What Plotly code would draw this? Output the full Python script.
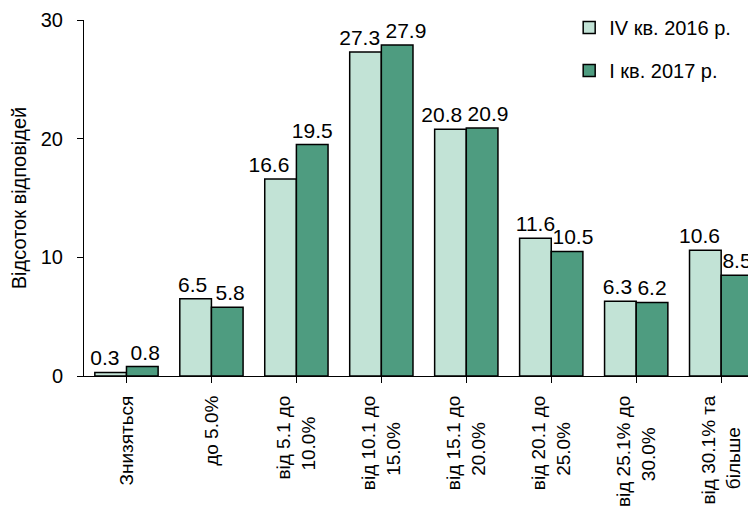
import plotly.graph_objects as go

NB = "\u00a0"
categories = ["Знизяться", "до 5.0%", "від 5.1 до<br>10.0%" + NB * 4, "від 10.1 до<br>15.0%" + NB * 5,
              "від 15.1 до<br>20.0%" + NB * 5, "від 20.1 до<br>25.0%" + NB * 5,
              "від 25.1% до<br>30.0%" + NB * 6, "від 30.1% та<br>більше" + NB * 6]
series_names = ["IV кв. 2016 р.", "I кв. 2017 р."]
values_q4_2016 = [0.3, 6.5, 16.6, 27.3, 20.8, 11.6, 6.3, 10.6]
values_q1_2017 = [0.8, 5.8, 19.5, 27.9, 20.9, 10.5, 6.2, 8.5]
y_ticks = [0, 10, 20, 30]

# label nudges (number of no-break spaces) to mimic the reference label placement
pad_q4_2016 = [2, 1, 4, 2, 3, 0, 1, 2]   # trailing -> nudges label left
pad_q1_2017 = [1, 1, 0, 3, 2, 2, 0, 0]   # leading -> nudges label right

FONT = "Liberation Sans, Arial, sans-serif"
colors = ["#C2E3D6", "#4E9C80"]

texts_q4 = [f"{v:.1f}" + NB * p for v, p in zip(values_q4_2016, pad_q4_2016)]
texts_q1 = [NB * p + f"{v:.1f}" for v, p in zip(values_q1_2017, pad_q1_2017)]

fig = go.Figure()
for i, (name, vals, txt) in enumerate(zip(series_names, [values_q4_2016, values_q1_2017],
                                          [texts_q4, texts_q1])):
    fig.add_trace(go.Bar(
        x=list(range(len(categories))), y=vals, name=name,
        marker=dict(color=colors[i], line=dict(color="black", width=1.5)),
        text=txt, textposition="outside",
        textfont=dict(family=FONT, size=21, color="black"),
        constraintext="none",
        cliponaxis=False, legendgroup=f"g{i}",
    ))

fig.update_layout(
    width=748, height=500,
    margin=dict(l=76, r=0, t=8, b=132),
    paper_bgcolor="white", plot_bgcolor="white",
    barmode="group", bargap=0.255, bargroupgap=0,
    font=dict(family=FONT, size=20, color="black"),
    showlegend=True,
    legend=dict(x=0.722, y=1.035, xanchor="left", yanchor="top",
                font=dict(family=FONT, size=20), traceorder="grouped",
                tracegroupgap=14, bgcolor="rgba(0,0,0,0)", itemwidth=30),
    xaxis=dict(
        tickmode="array", tickvals=list(range(len(categories))), ticktext=categories,
        range=[-0.5, 7.41], tickangle=-90, ticks="outside", tickson="boundaries",
        ticklen=6, tickcolor="black", showline=True, linecolor="black", linewidth=1,
        showgrid=False, tickfont=dict(family=FONT, size=19), zeroline=False,
        ticklabelstandoff=5,
    ),
    yaxis=dict(
        range=[0, 30], tickvals=y_ticks, ticks="outside", ticklen=6, tickcolor="black",
        showline=True, linecolor="black", linewidth=1, showgrid=False, zeroline=False,
        tickfont=dict(family=FONT, size=20), ticklabelstandoff=10,
        title=dict(text="Відсоток відповідей", font=dict(family=FONT, size=20), standoff=8),
    ),
)

fig.write_html("out.html")
